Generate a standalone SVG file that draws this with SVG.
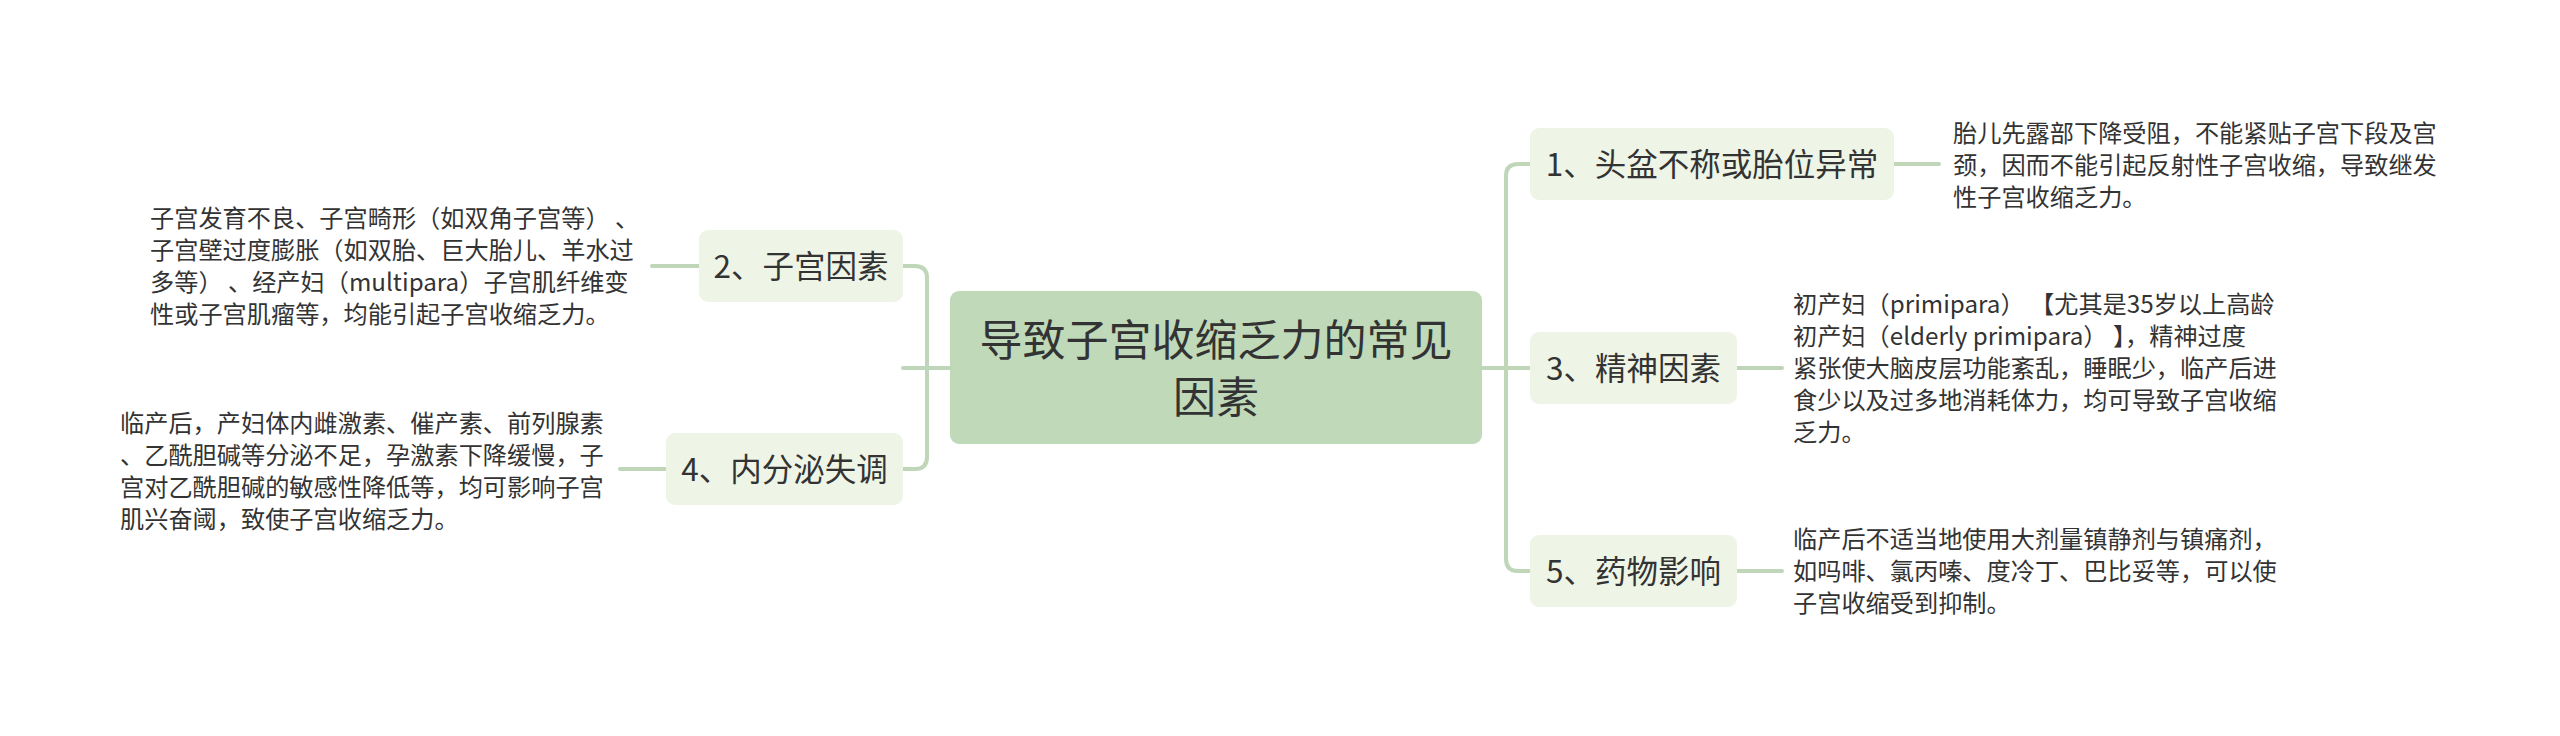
<svg xmlns="http://www.w3.org/2000/svg" width="2560" height="736" viewBox="0 0 2560 736">
<style>
text{font-family:"Noto Sans CJK SC","Noto Sans",sans-serif;fill:#333333}
.root rect{fill:#bfd9b9}
.root text{font-size:43px;text-anchor:middle}
.node rect{fill:#eef5e7}
.node text{font-size:31.5px;text-anchor:middle}
.desc{font-size:24.2px}
#connectors path{fill:none;stroke:#bfd7b8;stroke-width:4;stroke-linecap:round}
</style>
<rect width="2560" height="736" fill="#ffffff"/>
<g id="connectors">
<path d="M1482 368 H1530"/>
<path d="M1506 368 V176 Q1506 164 1518 164 H1530"/>
<path d="M1506 368 V559 Q1506 571 1518 571 H1530"/>
<path d="M950 368 H903"/>
<path d="M927 368 V278 Q927 266 915 266 H903"/>
<path d="M927 368 V457 Q927 469 915 469 H903"/>
<path d="M1894 164 H1939"/>
<path d="M1737 368 H1782"/>
<path d="M1737 571 H1782"/>
<path d="M652 266 H699"/>
<path d="M620 469 H666"/>
</g>
<g id="root" class="root">
<rect x="950" y="291" width="532" height="153" rx="9"/>
<text x="1216" y="355.5">导致子宫收缩乏力的常见</text>
<text x="1216" y="412.5">因素</text>
</g>
<g id="n1" class="node">
<rect x="1530" y="128" width="364" height="72" rx="9"/>
<text x="1712" y="175.5">1、头盆不称或胎位异常</text>
</g>
<g id="n1-desc">
<text class="desc" x="1953" y="142">胎儿先露部下降受阻，不能紧贴子宫下段及宫</text>
<text class="desc" x="1953" y="174">颈，因而不能引起反射性子宫收缩，导致继发</text>
<text class="desc" x="1953" y="206">性子宫收缩乏力。</text>
</g>
<g id="n3" class="node">
<rect x="1530" y="332" width="207" height="72" rx="9"/>
<text x="1633.5" y="379.5">3、精神因素</text>
</g>
<g id="n3-desc">
<text class="desc" x="1793" y="312.5">初产妇（primipara） 【尤其是35岁以上高龄</text>
<text class="desc" x="1793" y="344.5">初产妇（elderly primipara） 】，精神过度</text>
<text class="desc" x="1793" y="376.5">紧张使大脑皮层功能紊乱，睡眠少，临产后进</text>
<text class="desc" x="1793" y="408.5">食少以及过多地消耗体力，均可导致子宫收缩</text>
<text class="desc" x="1793" y="440.5">乏力。</text>
</g>
<g id="n5" class="node">
<rect x="1530" y="535" width="207" height="72" rx="9"/>
<text x="1633.5" y="582.5">5、药物影响</text>
</g>
<g id="n5-desc">
<text class="desc" x="1793" y="547.5">临产后不适当地使用大剂量镇静剂与镇痛剂，</text>
<text class="desc" x="1793" y="579.5">如吗啡、氯丙嗪、度冷丁、巴比妥等，可以使</text>
<text class="desc" x="1793" y="611.5">子宫收缩受到抑制。</text>
</g>
<g id="n2" class="node">
<rect x="699" y="230" width="204" height="72" rx="9"/>
<text x="801" y="277.5">2、子宫因素</text>
</g>
<g id="n2-desc">
<text class="desc" x="150" y="226.5">子宫发育不良、子宫畸形（如双角子宫等） 、</text>
<text class="desc" x="150" y="258.5">子宫壁过度膨胀（如双胎、巨大胎儿、羊水过</text>
<text class="desc" x="150" y="290.5">多等） 、经产妇（multipara）子宫肌纤维变</text>
<text class="desc" x="150" y="322.5">性或子宫肌瘤等，均能引起子宫收缩乏力。</text>
</g>
<g id="n4" class="node">
<rect x="666" y="433" width="237" height="72" rx="9"/>
<text x="784.5" y="480.5">4、内分泌失调</text>
</g>
<g id="n4-desc">
<text class="desc" x="120" y="431.5">临产后，产妇体内雌激素、催产素、前列腺素</text>
<text class="desc" x="120" y="463.5">、乙酰胆碱等分泌不足，孕激素下降缓慢，子</text>
<text class="desc" x="120" y="495.5">宫对乙酰胆碱的敏感性降低等，均可影响子宫</text>
<text class="desc" x="120" y="527.5">肌兴奋阈，致使子宫收缩乏力。</text>
</g>
</svg>
